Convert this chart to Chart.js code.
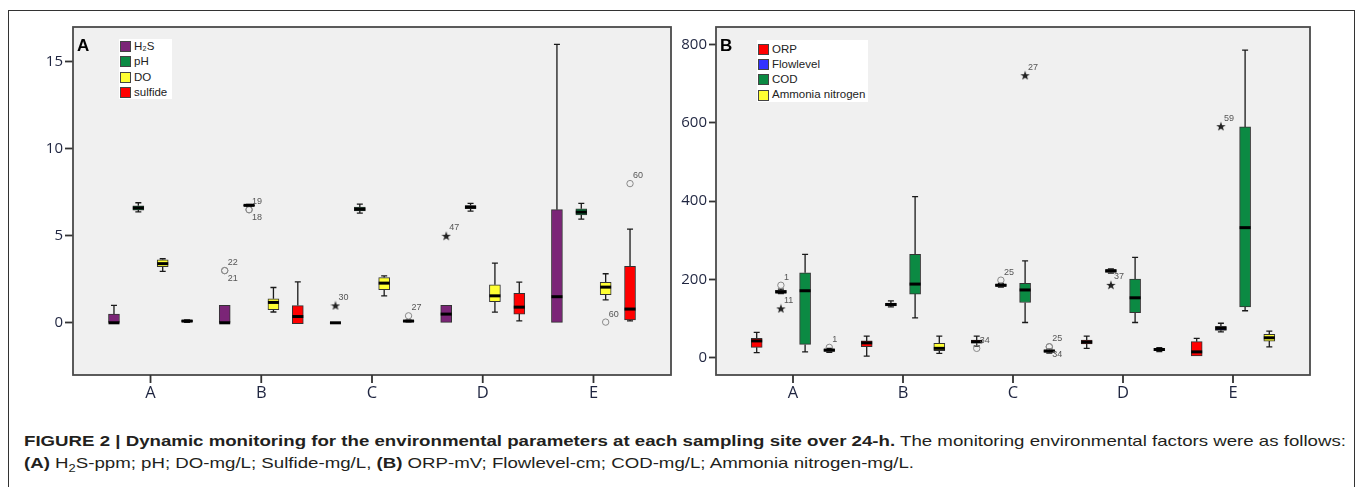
<!DOCTYPE html>
<html>
<head>
<meta charset="utf-8">
<script src="https://cdn.jsdelivr.net/npm/chart.js@4.4.1/dist/chart.umd.min.js"></script>
<style>
  body { margin: 0; width: 1358px; height: 487px; background: #fff; overflow: hidden; position: relative;
         font-family: "Liberation Sans", Arial, sans-serif; }
  #frame { position: absolute; left: 8px; top: 10px; width: 1347px; height: 490px; border: 1px solid #333; box-sizing: border-box; }
  canvas { position: absolute; top: 10px; }
  #chartA { left: 8px; }
  #chartB { left: 676px; }
  .legend { position: absolute; background: #fff; font-size: 11.5px; color: #222; }
  .legend div { height: 15.3px; line-height: 15.3px; display: flex; align-items: center; white-space: nowrap; }
  .legend span.sw { width: 9px; height: 9px; border: 1px solid #444; margin: 0 3px 0 1px; flex: none; }
  .panel { position: absolute; font: bold 17px "Liberation Sans", Arial, sans-serif; color: #000; }
  #caption { position: absolute; left: 24px; top: 430px; font-size: 14.5px; line-height: 22px; color: #231f20;
             white-space: nowrap; transform-origin: 0 0; }
  #cap1 { display: inline-block; }
</style>
</head>
<body>
<div id="frame"></div>
<canvas id="chartA" width="668" height="410"></canvas>
<canvas id="chartB" width="679" height="410"></canvas>
<div class="legend" id="legendA" style="left:119px; top:39px; width:53px; height:60px;"></div>
<div class="legend" id="legendB" style="left:757px; top:40px; width:111px; height:62px; padding-top:1.5px; box-sizing:border-box;"></div>
<div class="panel" style="left:77px; top:36px;">A</div>
<div class="panel" style="left:720px; top:36px;">B</div>
<div id="caption">
  <div id="cap1"><b>FIGURE 2 | Dynamic monitoring for the environmental parameters at each sampling site over 24-h.</b> The monitoring environmental factors were as follows:</div><br>
  <div style="display:inline-block"><b>(A)</b> H<sub style="font-size:10px">2</sub>S-ppm; pH; DO-mg/L; Sulfide-mg/L, <b>(B)</b> ORP-mV; Flowlevel-cm; COD-mg/L; Ammonia nitrogen-mg/L.</div>
</div>

<script>
// Sampling sites (x categories)
const sites = ['A', 'B', 'C', 'D', 'E'];

// Panel A: [lower whisker, Q1, median, Q3, upper whisker] per site
const namesA   = ['H₂S', 'pH', 'DO', 'sulfide'];
const h2s      = [[0, 0, 0, 0.5, 1.0], [0, 0, 0, 1.0, 1.0], [0, 0, 0, 0, 0], [0, 0, 0.5, 1.0, 1.0], [0, 0, 1.5, 6.5, 16.0]];
const ph       = [[6.38, 6.48, 6.6, 6.72, 6.9], [6.7, 6.72, 6.75, 6.78, 6.8], [6.3, 6.43, 6.53, 6.65, 6.82], [6.42, 6.56, 6.65, 6.74, 6.86], [5.96, 6.2, 6.36, 6.55, 6.86]];
const dox      = [[2.95, 3.22, 3.4, 3.62, 3.68], [0.62, 0.75, 1.17, 1.38, 2.03], [1.55, 1.9, 2.28, 2.6, 2.7], [0.61, 1.22, 1.55, 2.18, 3.43], [1.32, 1.61, 2.05, 2.32, 2.82]];
const sulfide  = [[0.03, 0.05, 0.1, 0.15, 0.17], [-0.05, -0.05, 0.36, 0.99, 2.35], [0.05, 0.07, 0.1, 0.13, 0.15], [0.11, 0.5, 0.9, 1.7, 2.34], [0.11, 0.17, 0.79, 3.24, 5.38]];
// Outliers: [site, series index, value, case id, 'o' outlier / '*' extreme]
const outliersA = [
  ['B', 0, 3.0, '22', 'o'], ['B', 0, 3.0, '21', 'o'],
  ['B', 1, 6.5, '19', 'o'], ['B', 1, 6.5, '18', 'o'],
  ['C', 0, 1.0, '30', '*'], ['C', 3, 0.4, '27', 'o'],
  ['D', 0, 5.0, '47', '*'],
  ['E', 2, 0.04, '60', 'o'], ['E', 3, 8.0, '60', 'o']
];
const ticksA = [0, 5, 10, 15];

// Panel B
const namesB   = ['ORP', 'Flowlevel', 'COD', 'Ammonia nitrogen'];
const orp      = [[13, 26.5, 43, 49.5, 65], [4, 28, 38, 43, 55], [30, 37, 41, 45, 55], [24, 35, 40, 45, 55], [5, 5, 15, 41, 49.5]];
const flow     = [[164, 165, 168, 172, 175], [130, 132, 136, 139, 145], [180, 182, 185, 188, 190], [216, 218, 222, 225, 227], [66, 70, 75, 80, 88]];
const cod      = [[15, 34, 171, 217, 264], [102, 162.5, 188, 264, 411], [90, 141, 173, 190, 247], [90, 115, 153, 201, 256], [120, 130, 332, 589, 785]];
const ammonia  = [[14, 16, 19.6, 22, 24], [11, 18, 24, 37, 55], [12, 14, 17, 20, 22], [16, 18, 21, 24, 26], [28, 42.5, 51, 60, 68]];
const outliersB = [
  ['A', 1, 185, '1', 'o'], ['A', 1, 126, '11', '*'], ['A', 3, 26.5, '1', 'o'],
  ['C', 0, 24, '34', 'o'], ['C', 1, 198, '25', 'o'], ['C', 2, 721, '27', '*'],
  ['C', 3, 28, '25', 'o'], ['C', 3, 28, '34', 'o'],
  ['D', 1, 186, '37', '*'], ['E', 1, 591, '59', '*']
];
const ticksB = [0, 200, 400, 600, 800];

// Colours
const colorsA = ['#7b2577', '#0b8a43', '#ffff33', '#ff0000'];
const colorsB = ['#ff0000', '#3333ff', '#0b8a43', '#ffff33'];

// Offset of each series within a site group (x units)
const offsets = [-0.33, -0.11, 0.11, 0.33];
const boxWidth = 11;

// Filled star for extreme values
function starImage() {
  const c = document.createElement('canvas');
  c.width = c.height = 10;
  const g = c.getContext('2d');
  g.fillStyle = '#222';
  g.beginPath();
  for (let i = 0; i < 10; i++) {
    const r = i % 2 ? 2 : 5;
    const a = -Math.PI / 2 + i * Math.PI / 5;
    g.lineTo(5 + r * Math.cos(a), 5.5 + r * Math.sin(a));
  }
  g.closePath();
  g.fill();
  return c;
}
const star = starImage();

function xOf(site, k) { return sites.indexOf(site) + 1 + offsets[k]; }

// Whiskers, medians, labels, plot background
function boxParts(boxes, outliers) {
  return {
    id: 'boxParts',
    beforeDraw(chart) {
      const { ctx, chartArea: a } = chart;
      ctx.save();
      ctx.fillStyle = '#f0f0f0';
      ctx.fillRect(a.left, a.top, a.right - a.left, a.bottom - a.top);
      ctx.restore();
    },
    beforeDatasetsDraw(chart) {
      const { ctx, scales: { x, y } } = chart;
      ctx.save();
      ctx.strokeStyle = '#1a1a1a';
      ctx.lineWidth = 1.3;
      boxes.forEach((series, k) => series.forEach((b, i) => {
        const px = x.getPixelForValue(i + 1 + offsets[k]);
        const [lo, q1, , q3, hi] = b;
        ctx.beginPath();
        if (hi > q3) {
          ctx.moveTo(px, y.getPixelForValue(q3)); ctx.lineTo(px, y.getPixelForValue(hi));
          ctx.moveTo(px - 3, y.getPixelForValue(hi)); ctx.lineTo(px + 3, y.getPixelForValue(hi));
        }
        if (lo < q1) {
          ctx.moveTo(px, y.getPixelForValue(q1)); ctx.lineTo(px, y.getPixelForValue(lo));
          ctx.moveTo(px - 3, y.getPixelForValue(lo)); ctx.lineTo(px + 3, y.getPixelForValue(lo));
        }
        ctx.stroke();
      }));
      ctx.restore();
    },
    afterDatasetsDraw(chart) {
      const { ctx, chartArea: a, scales: { x, y } } = chart;
      ctx.save();
      // medians
      ctx.strokeStyle = '#000';
      ctx.lineWidth = 3;
      boxes.forEach((series, k) => series.forEach((b, i) => {
        const px = x.getPixelForValue(i + 1 + offsets[k]);
        const py = y.getPixelForValue(b[2]);
        ctx.beginPath();
        ctx.moveTo(px - boxWidth / 2, py); ctx.lineTo(px + boxWidth / 2, py);
        ctx.stroke();
      }));
      // case labels
      ctx.fillStyle = '#555';
      ctx.font = '9px "Liberation Sans", Arial, sans-serif';
      ctx.textBaseline = 'middle';
      const seen = {};
      outliers.forEach(o => {
        const key = o[0] + o[1] + o[2];
        const px = x.getPixelForValue(xOf(o[0], o[1]));
        const py = y.getPixelForValue(o[2]);
        const below = seen[key];
        seen[key] = true;
        ctx.fillText(o[3], px + 3, below ? py + 8 : py - 8);
      });
      // frame
      ctx.strokeStyle = '#4a4a4a';
      ctx.lineWidth = 1.8;
      ctx.strokeRect(a.left, a.top, a.right - a.left, a.bottom - a.top);
      // site tick marks under the x axis
      ctx.strokeStyle = '#333';
      ctx.beginPath();
      x.ticks.forEach(t => {
        const px = x.getPixelForValue(t.value);
        ctx.moveTo(px, a.bottom); ctx.lineTo(px, a.bottom + 8);
      });
      ctx.stroke();
      ctx.restore();
    }
  };
}

function makePanel(id, names, colors, boxes, outliers, yMin, yMax, yTicks, yWidth, tickLen, padRight) {
  const datasets = boxes.map((series, k) => ({
    type: 'bar',
    label: names[k],
    data: series.map((b, i) => ({ x: i + 1 + offsets[k], y: [b[1], b[3]] })),
    backgroundColor: colors[k],
    borderColor: '#333',
    borderWidth: 1,
    borderSkipped: false,
    barThickness: boxWidth,
    grouped: false,
    order: 2
  }));
  datasets.push({
    type: 'scatter',
    data: outliers.filter(o => o[4] === 'o').map(o => ({ x: xOf(o[0], o[1]), y: o[2] })),
    pointStyle: 'circle', pointRadius: 3.2, pointBorderWidth: 1,
    pointBackgroundColor: 'rgba(0,0,0,0)', pointBorderColor: '#8a8a8a', order: 1
  });
  datasets.push({
    type: 'scatter',
    data: outliers.filter(o => o[4] === '*').map(o => ({ x: xOf(o[0], o[1]), y: o[2] })),
    pointStyle: star, order: 1
  });

  const labelColor = '#1f2540';
  return new Chart(document.getElementById(id), {
    type: 'bar',
    data: { datasets },
    options: {
      responsive: false,
      animation: false,
      events: [],
      layout: { padding: { top: 17, right: padRight, bottom: 0, left: 0 } },
      plugins: { legend: { display: false }, tooltip: { enabled: false } },
      scales: {
        x: {
          type: 'linear', min: 0.3, max: 5.7, bounds: 'data', offset: false,
          afterBuildTicks: s => { s.ticks = sites.map((_, i) => ({ value: i + 1 })); },
          afterFit: s => { s.height = 45; },
          ticks: { callback: v => sites[v - 1], font: { family: '"Open Sans", sans-serif', size: 16.5 },
                   color: labelColor, padding: 8, maxRotation: 0 },
          grid: { display: false, drawTicks: false },
          border: { display: false }
        },
        y: {
          type: 'linear', min: yMin, max: yMax, bounds: 'data',
          afterBuildTicks: s => { s.ticks = yTicks.map(v => ({ value: v })); },
          afterFit: s => { s.width = yWidth; },
          ticks: { font: { family: '"Open Sans", sans-serif', size: 15 }, color: labelColor, padding: 2 },
          grid: { drawOnChartArea: false, tickLength: tickLen, tickColor: '#333', tickWidth: 1.8 },
          border: { display: false }
        }
      }
    },
    plugins: [boxParts(boxes, outliers)]
  });
}

makePanel('chartA', namesA, colorsA, [h2s, ph, dox, sulfide], outliersA, -3, 17, ticksA, 65, 8, 3);
makePanel('chartB', namesB, colorsB, [orp, flow, cod, ammonia], outliersB, -44, 844, ticksB, 40, 7, 45);

// Legends
function fillLegend(id, names, colors) {
  const el = document.getElementById(id);
  names.forEach((n, k) => {
    const row = document.createElement('div');
    const sw = document.createElement('span');
    sw.className = 'sw';
    sw.style.background = colors[k];
    row.appendChild(sw);
    row.appendChild(document.createTextNode(n));
    el.appendChild(row);
  });
}
fillLegend('legendA', namesA, colorsA);
fillLegend('legendB', namesB, colorsB);

// Condensed caption: fit first line to the figure width
const cap = document.getElementById('caption');
const w1 = document.getElementById('cap1').getBoundingClientRect().width;
cap.style.transform = 'scaleX(' + (1322 / w1) + ')';
</script>
</body>
</html>
